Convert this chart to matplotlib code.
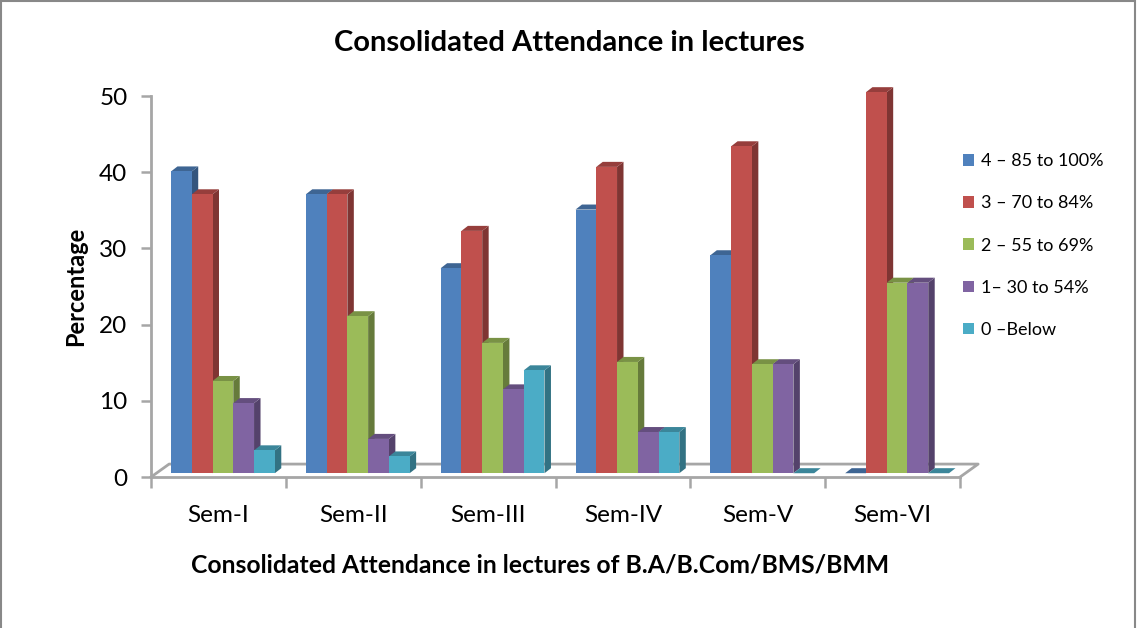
import numpy as np
import matplotlib
matplotlib.use("Agg")
import matplotlib.pyplot as plt
from matplotlib.patches import Polygon, Patch, Rectangle
from matplotlib.colors import to_rgb

plt.rcParams['font.family'] = ['Lato', 'DejaVu Sans']

semesters = ['Sem-I', 'Sem-II', 'Sem-III', 'Sem-IV', 'Sem-V', 'Sem-VI']
series_labels = ['4 \u2013 85 to 100%', '3 \u2013 70 to 84%', '2 \u2013 55 to 69%',
                 '1\u2013 30 to 54%', '0 \u2013Below']
grade_4 = [39.6, 36.6, 26.9, 34.6, 28.6, 0.0]
grade_3 = [36.6, 36.6, 31.8, 40.2, 42.9, 50.0]
grade_2 = [12.1, 20.6, 17.1, 14.6, 14.3, 25.0]
grade_1 = [9.2, 4.5, 11.0, 5.4, 14.3, 25.0]
grade_0 = [3.0, 2.2, 13.5, 5.4, 0.0, 0.0]
all_series = [grade_4, grade_3, grade_2, grade_1, grade_0]
colors = ['#4F81BD', '#C0504D', '#9BBB59', '#8064A2', '#4BACC6']


def shade(c, f):
    return tuple(v * f for v in to_rgb(c))


fig = plt.figure(figsize=(11.39, 6.28), dpi=100)
ax = fig.add_axes([0.1326, 0.2404, 0.7103, 0.6067])

# 3d look: depth offsets in data units
dx, dy = 0.048, 0.66
base = 0.5
width = 0.154
x = np.arange(len(semesters))
group_left = x - 0.352
grey = '#A6A6A6'

# floor
fx0, fx1, fdx, fdy = -0.5, 5.5, 0.134, 1.7
ax.plot([fx0, fx0 + fdx, fx1 + fdx, fx1], [0, fdy, fdy, 0], color=grey, lw=2,
        clip_on=False, zorder=1)

for i, (vals, c) in enumerate(zip(all_series, colors)):
    xs = group_left + i * width + width / 2
    for xc, v in zip(xs, vals):
        z = 2 + i * 3
        l, r, top = xc - width / 2, xc + width / 2, base + v
        if v > 0:
            ax.add_patch(Polygon([(r, base), (r + dx, base + dy), (r + dx, top + dy), (r, top)],
                                 closed=True, facecolor=shade(c, 0.66), edgecolor='none',
                                 zorder=z, clip_on=False))
        ax.add_patch(Polygon([(l, top), (r, top), (r + dx, top + dy), (l + dx, top + dy)],
                             closed=True, facecolor=shade(c, 0.78), edgecolor='none',
                             zorder=z + 1, clip_on=False))
    ax.bar(xs, vals, width, bottom=base, color=c, zorder=2 + i * 3 + 2, clip_on=False,
           linewidth=0)

ax.set_xlim(-0.5, 5.5)
ax.set_ylim(0, 50)
ax.set_yticks(range(0, 51, 10))
ax.set_xticks(np.arange(-0.5, 6, 1))
ax.set_xticklabels([])
ax.set_xticks(x, minor=True)
ax.set_xticklabels(semesters, minor=True)
ax.tick_params(axis='x', which='minor', length=0, pad=20, labelsize=17.5)
ax.tick_params(axis='x', which='major', length=8, width=1.8, color=grey)
ax.tick_params(axis='y', length=7, width=1.8, color=grey, labelsize=17.5, pad=10)
for s in ['top', 'right']:
    ax.spines[s].set_visible(False)
for s in ['left', 'bottom']:
    ax.spines[s].set_color(grey)
    ax.spines[s].set_linewidth(2)
ax.patch.set_alpha(0)

ax.set_ylabel('Percentage', fontsize=17, fontweight='bold', labelpad=9)
ax.set_xlabel('Consolidated Attendance in lectures of B.A/B.Com/BMS/BMM',
              fontsize=17.8, fontweight='bold', labelpad=20)
ax.xaxis.set_label_coords(0.481, -0.2)
fig.text(0.4995, 0.932, 'Consolidated Attendance in lectures', ha='center', va='center',
         fontsize=21, fontweight='bold')

handles = [Patch(facecolor=c, edgecolor='none') for c in colors]
fig.legend(handles, series_labels, loc='upper left', bbox_to_anchor=(0.831, 0.782),
           frameon=False, fontsize=13, handlelength=0.6, handleheight=0.6,
           handletextpad=0.4, labelspacing=1.45)

fig.add_artist(Rectangle((0.0012, -0.01), 0.9953, 1.0085, transform=fig.transFigure,
                         fill=False, edgecolor='#888888', lw=1.5))

fig.savefig('out.png', dpi=100)
